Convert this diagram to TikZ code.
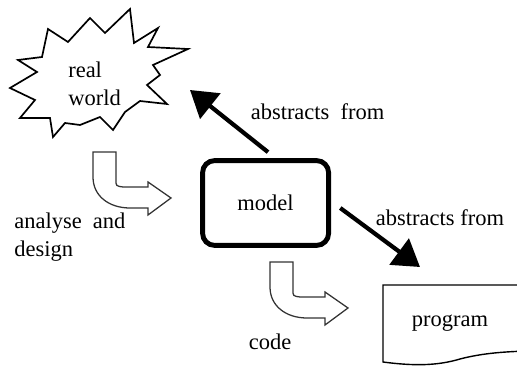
\documentclass[tikz,border=0pt]{standalone}
\usepackage{fontspec}
\setmainfont{Liberation Serif}
\usepackage{tikz}
\usetikzlibrary{arrows.meta,calc,positioning}
\tikzset{turnarrow/.pic={
  \draw[line width=0.9pt,black!80] (0,0) -- (0.575,0) -- (0.575,-0.7) .. controls (0.575,-0.85) .. (0.75,-0.875)
    -- (1.375,-0.875) -- (1.375,-0.75) -- (1.95,-1.15) -- (1.375,-1.575) -- (1.375,-1.4) -- (0.925,-1.4)
    .. controls (0.4,-1.4) and (0,-1.1) .. (0,-0.625) -- cycle;}}

\begin{document}
\begin{tikzpicture}[>={Triangle[length=0.65cm,width=0.8cm]},font=\fontsize{16}{20}\selectfont]
\useasboundingbox (0,0) rectangle (12.925,9.175);
\clip (0,0) rectangle (12.925,9.175);
% real world
\draw[line width=1.2pt] (3.25,8.95) -- (3.35,8.1) -- (3.95,8.475) -- (3.7,8.0) -- (4.7,7.95) -- (3.825,7.55)
  -- (4.0,7.3) -- (3.675,7.05) -- (4.175,6.575) -- (3.5,6.65) -- (3.125,6.375) -- (2.825,5.925) -- (2.5,6.25)
  -- (2.0,6.05) -- (1.625,6.1) -- (1.325,5.75) -- (1.25,6.225) -- (0.5,6.225) -- (0.875,6.675) -- (0.25,6.975)
  -- (0.925,7.375) -- (0.45,7.675) -- (1.05,7.75) -- (1.2,8.45) -- (1.7,8.125) -- (2.25,8.725) -- (2.625,8.35) -- cycle;
\node[align=left,anchor=west,inner sep=0pt] (world) at (1.7,7.075) {real\\world};
% model
\node[draw,line width=3.5pt,rounded corners=0.3cm,minimum width=3.15cm,minimum height=2.12cm] (model) at (6.64,4.1) {model};
% program
\draw[line width=1pt] (13.2,2.05) -- (9.575,2.05) -- (9.575,0.125) .. controls (10.3,0.03) and (10.9,0.02) .. (11.5,0.2)
  .. controls (12.0,0.33) and (12.5,0.38) .. (13.2,0.4);
\node (prog) at (11.25,1.1) {program};
% abstraction arrows
\coordinate (rwtip) at (4.75,6.925);
\coordinate (progtip) at (10.5,2.5);
\draw[->,line width=3pt] ([xshift=0.6mm,yshift=1.5mm]model.north) -- (rwtip);
\draw[->,line width=3pt] ([xshift=2.3mm,yshift=-1.25mm]model.east) -- (progtip);
\node (abs1) at (7.94,6.375) {abstracts\ \ from};
\node (abs2) at (11.0,3.725) {abstracts from};
% process arrows
\pic at (2.325,5.375) {turnarrow};
\pic at (6.75,2.625) {turnarrow};
\node[align=left,anchor=west,inner sep=0pt] (design) at (0.35,3.25) {analyse\ \ and\\design};
\node (code) at (6.75,0.625) {code};
\end{tikzpicture}
\end{document}
